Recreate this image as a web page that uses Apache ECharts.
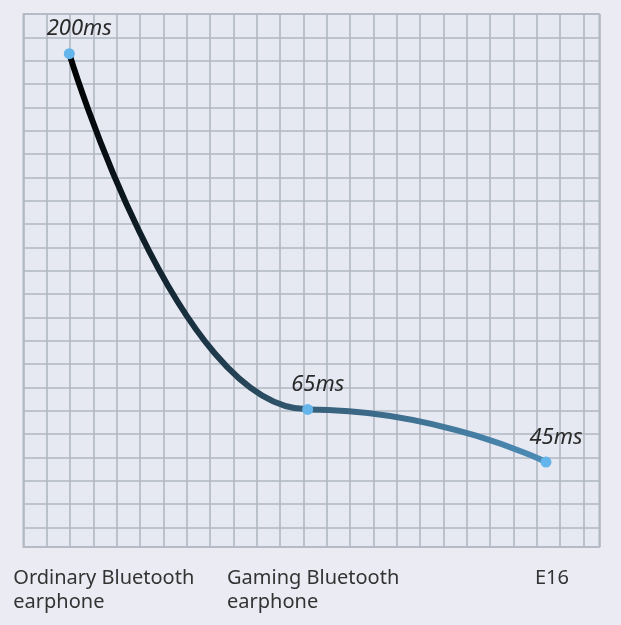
<!DOCTYPE html>
<html><head><meta charset="utf-8">
<script src="https://cdn.jsdelivr.net/npm/echarts@6/dist/echarts.min.js"></script>
<style>html,body{margin:0;padding:0;background:#ebebf4;} #c{width:621px;height:625px;}</style>
</head><body><div id="c"></div>
<script>
// ---- data ----
const categories = ['Ordinary Bluetooth\nearphone', 'Gaming Bluetooth\nearphone', 'E16'];
const latencyMs = [200, 65, 45];
const valueUnit = 'ms';
const yRange = [0, 200];
// background paper grid: cells per axis
const paperCols = 24.686;
const paperRows = 22.843;

const chart = echarts.init(document.getElementById('c'));
const gridLine = { color: '#b1b8c2', width: 1.6 };
const hidden = { axisLine: { show: false }, axisTick: { show: false }, axisLabel: { show: false } };

chart.setOption({
  backgroundColor: '#ebebf4',
  animation: false,
  grid: [
    { left: 23.33, top: 14, right: 21.7, bottom: 78, show: true, borderColor: '#b1b8c2', borderWidth: 1.6, backgroundColor: '#e6e8f2' },
    { left: 69.3, right: 75, top: 53.65, bottom: 44.35 },
    { left: 13.3, right: 180.3, top: 0, bottom: 58.5 }
  ],
  xAxis: [
    Object.assign({ type: 'value', gridIndex: 0, min: 0, max: paperCols, interval: 1,
      splitLine: { show: true, lineStyle: gridLine } }, hidden),
    Object.assign({ type: 'category', gridIndex: 1, data: categories, boundaryGap: false,
      splitLine: { show: false } }, hidden),
    { type: 'category', gridIndex: 2, data: categories, boundaryGap: false,
      axisLine: { show: false }, axisTick: { show: false }, splitLine: { show: false },
      axisLabel: { show: true, interval: 0, margin: 0, align: 'left', verticalAlign: 'top',
        color: '#333', fontSize: 20, lineHeight: 24, fontFamily: 'Noto Sans',
        formatter: (v, i) => i === categories.length - 1 ? '{sp|}' + v : v,
        rich: { sp: { width: 94.3 } } } }
  ],
  yAxis: [
    Object.assign({ type: 'value', gridIndex: 0, inverse: true, min: 0, max: paperRows, interval: 1,
      splitLine: { show: true, lineStyle: gridLine } }, hidden),
    Object.assign({ type: 'value', gridIndex: 1, min: yRange[0], max: yRange[1],
      splitLine: { show: false } }, hidden),
    Object.assign({ type: 'value', gridIndex: 2, splitLine: { show: false } }, hidden)
  ],
  series: [{
    type: 'line',
    xAxisIndex: 1, yAxisIndex: 1,
    data: latencyMs,
    smooth: 0.55,
    smoothMonotone: 'x',
    symbol: 'circle',
    symbolSize: 11,
    itemStyle: { color: '#64b5eb' },
    lineStyle: {
      width: 6,
      color: new echarts.graphic.LinearGradient(0, 0, 1, 0, [
        { offset: 0, color: '#000000' },
        { offset: 0.25, color: '#18303f' },
        { offset: 0.52, color: '#37607a' },
        { offset: 1, color: '#4c8cb7' }
      ])
    },
    label: {
      show: true, position: 'top', distance: 8, offset: [10, 0],
      fontStyle: 'italic', fontSize: 22, color: '#2a2a2a', fontFamily: 'Noto Sans',
      formatter: p => p.value + valueUnit
    },
    z: 5
  }]
});
</script>
</body></html>
